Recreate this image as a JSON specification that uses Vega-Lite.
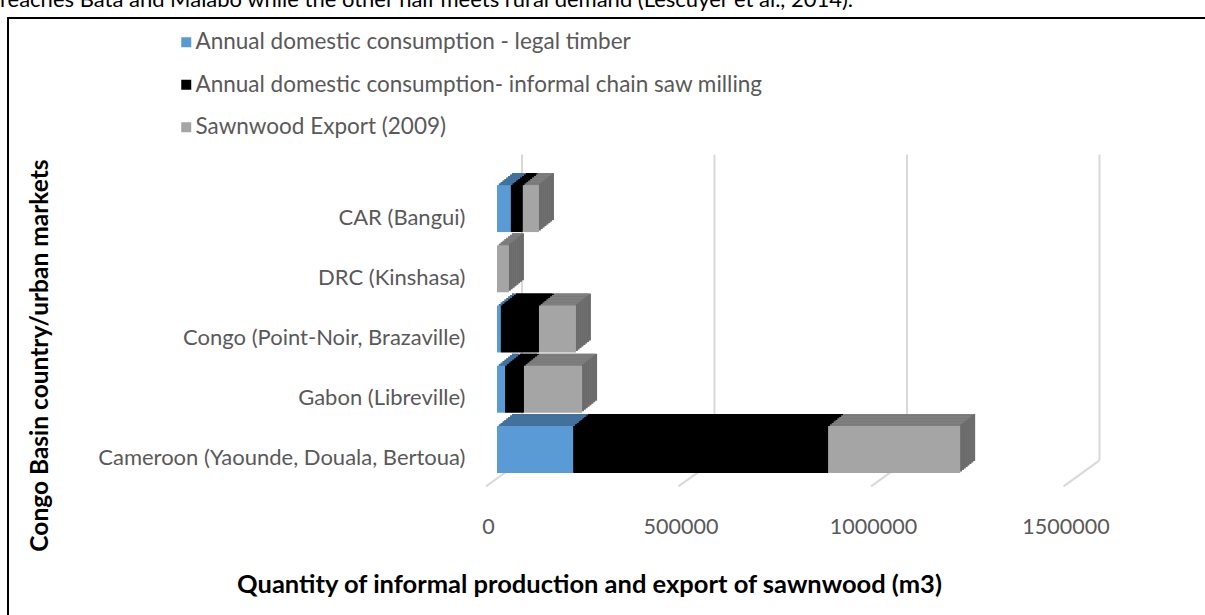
{
  "$schema": "https://vega.github.io/schema/vega-lite/v6.json",
  "width": 1200,
  "height": 600,
  "autosize": {"type": "none"},
  "padding": {"left": 8, "top": 18, "right": 0, "bottom": 0},
  "background": "white",
  "config": {"view": {"stroke": "#000000", "strokeWidth": 2}, "font": "Lato"},
  "title": {"text": "reaches Bata and Malabo while the other half meets rural demand (Lescuyer et al., 2014).", "anchor": "start", "frame": "group", "orient": "top", "fontSize": 22, "font": "Lato", "fontWeight": "normal", "color": "#000000", "baseline": "alphabetic", "offset": -11, "dx": -8},
  "layer": [
    {
      "data": {"values": [{"tick": 0}, {"tick": 500000}, {"tick": 1000000}, {"tick": 1500000}]},
      "mark": {"type": "rule", "color": "#D9D9D9", "strokeWidth": 2, "xOffset": 25, "yOffset": -54, "y2Offset": 11},
      "encoding": {
        "x": {"field": "tick", "type": "quantitative", "scale": {"domain": [0, 1500000], "range": [489, 1066.5], "nice": false, "zero": false}},
        "y": {"datum": "CAR (Bangui)", "type": "nominal", "scale": {"domain": ["CAR (Bangui)", "DRC (Kinshasa)", "Congo (Point-Noir, Brazaville)", "Gabon (Libreville)", "Cameroon (Yaounde, Douala, Bertoua)"], "range": [137, 485], "paddingInner": 0.22, "paddingOuter": 0.5}},
        "y2": {"datum": "Cameroon (Yaounde, Douala, Bertoua)"}
      }
    },
    {
      "data": {"values": [{"tick": 0}, {"tick": 500000}, {"tick": 1000000}, {"tick": 1500000}]},
      "mark": {"type": "rule", "color": "#D9D9D9", "strokeWidth": 2, "xOffset": 25, "x2Offset": -11, "yOffset": 11, "y2Offset": 37},
      "encoding": {
        "x": {"field": "tick", "type": "quantitative", "scale": {"domain": [0, 1500000], "range": [489, 1066.5], "nice": false, "zero": false}},
        "x2": {"field": "tick"},
        "y": {"datum": "Cameroon (Yaounde, Douala, Bertoua)", "type": "nominal", "scale": {"domain": ["CAR (Bangui)", "DRC (Kinshasa)", "Congo (Point-Noir, Brazaville)", "Gabon (Libreville)", "Cameroon (Yaounde, Douala, Bertoua)"], "range": [137, 485], "paddingInner": 0.22, "paddingOuter": 0.5}},
        "y2": {"datum": "Cameroon (Yaounde, Douala, Bertoua)"}
      }
    },
    {
      "data": {"values": [
        {"market": "CAR (Bangui)", "series": "Annual domestic consumption - legal timber", "value": 36000},
        {"market": "CAR (Bangui)", "series": "Annual domestic consumption- informal chain saw milling", "value": 31000},
        {"market": "CAR (Bangui)", "series": "Sawnwood Export (2009)", "value": 42000},
        {"market": "DRC (Kinshasa)", "series": "Annual domestic consumption - legal timber", "value": 0},
        {"market": "DRC (Kinshasa)", "series": "Annual domestic consumption- informal chain saw milling", "value": 0},
        {"market": "DRC (Kinshasa)", "series": "Sawnwood Export (2009)", "value": 31000},
        {"market": "Congo (Point-Noir, Brazaville)", "series": "Annual domestic consumption - legal timber", "value": 10000},
        {"market": "Congo (Point-Noir, Brazaville)", "series": "Annual domestic consumption- informal chain saw milling", "value": 99000},
        {"market": "Congo (Point-Noir, Brazaville)", "series": "Sawnwood Export (2009)", "value": 96000},
        {"market": "Gabon (Libreville)", "series": "Annual domestic consumption - legal timber", "value": 21000},
        {"market": "Gabon (Libreville)", "series": "Annual domestic consumption- informal chain saw milling", "value": 49000},
        {"market": "Gabon (Libreville)", "series": "Sawnwood Export (2009)", "value": 151000},
        {"market": "Cameroon (Yaounde, Douala, Bertoua)", "series": "Annual domestic consumption - legal timber", "value": 198000},
        {"market": "Cameroon (Yaounde, Douala, Bertoua)", "series": "Annual domestic consumption- informal chain saw milling", "value": 662000},
        {"market": "Cameroon (Yaounde, Douala, Bertoua)", "series": "Sawnwood Export (2009)", "value": 343000}
      ]},
      "transform": [
        {"filter": "datum.value > 0"},
        {"stack": "value", "groupby": ["market"], "sort": [{"field": "series", "order": "ascending"}], "as": ["v0", "v1"]}
      ],
      "encoding": {
        "y": {"field": "market", "type": "nominal", "scale": {"domain": ["CAR (Bangui)", "DRC (Kinshasa)", "Congo (Point-Noir, Brazaville)", "Gabon (Libreville)", "Cameroon (Yaounde, Douala, Bertoua)"], "range": [137, 485], "paddingInner": 0.22, "paddingOuter": 0.5},
          "axis": {"title": "Congo Basin country/urban markets", "offset": -457, "domain": false, "ticks": false, "grid": false, "labelPadding": 0, "labelOffset": 9, "labelFontSize": 22, "labelColor": "#595959", "labelFont": "Lato", "labelLimit": 0, "titleFont": "Lato", "titleFontSize": 24.5, "titleFontWeight": "bold", "titleColor": "#000000", "titleX": -425, "titleY": 337, "titleAngle": 270, "titleBaseline": "middle", "titleAlign": "center"}},
        "x": {"field": "v0", "type": "quantitative", "scale": {"domain": [0, 1500000], "range": [489, 1066.5], "nice": false, "zero": false},
          "axis": {"title": "Quantity of informal production and export of sawnwood (m3)", "orient": "bottom", "offset": -115, "values": [0, 500000, 1000000, 1500000], "format": "d", "domain": false, "ticks": false, "grid": false, "labelPadding": 13, "labelOffset": -9, "labelFlush": false, "labelOverlap": false, "labelFontSize": 21.5, "labelColor": "#595959", "labelFont": "Lato", "titleFont": "Lato", "titleFontSize": 25.5, "titleFontWeight": "bold", "titleColor": "#000000", "titleX": 581, "titleY": 81, "titleBaseline": "middle", "titleAlign": "center"}},
        "x2": {"field": "v1"}
      },
      "layer": [
        {"mark": {"type": "bar", "xOffset": 15, "x2Offset": 15, "yOffset": -12, "y2Offset": -12}, "encoding": {"color": {"condition": [{"test": "datum.series == 'Sawnwood Export (2009)'", "value": "#6B6B6B"}, {"test": "datum.series == 'Annual domestic consumption - legal timber'", "value": "#41719C"}], "value": "#000000"}}},
        {"mark": {"type": "bar", "xOffset": 15, "x2Offset": 13.125, "yOffset": -12, "y2Offset": -12}, "encoding": {"color": {"condition": [{"test": "datum.series == 'Sawnwood Export (2009)'", "value": "#7F7F7F"}, {"test": "datum.series == 'Annual domestic consumption - legal timber'", "value": "#41719C"}], "value": "#000000"}}},
        {"mark": {"type": "bar", "xOffset": 13.125, "x2Offset": 13.125, "yOffset": -10.5, "y2Offset": -10.5}, "encoding": {"color": {"condition": [{"test": "datum.series == 'Sawnwood Export (2009)'", "value": "#6B6B6B"}, {"test": "datum.series == 'Annual domestic consumption - legal timber'", "value": "#41719C"}], "value": "#000000"}}},
        {"mark": {"type": "bar", "xOffset": 13.125, "x2Offset": 11.25, "yOffset": -10.5, "y2Offset": -10.5}, "encoding": {"color": {"condition": [{"test": "datum.series == 'Sawnwood Export (2009)'", "value": "#7F7F7F"}, {"test": "datum.series == 'Annual domestic consumption - legal timber'", "value": "#41719C"}], "value": "#000000"}}},
        {"mark": {"type": "bar", "xOffset": 11.25, "x2Offset": 11.25, "yOffset": -9, "y2Offset": -9}, "encoding": {"color": {"condition": [{"test": "datum.series == 'Sawnwood Export (2009)'", "value": "#6B6B6B"}, {"test": "datum.series == 'Annual domestic consumption - legal timber'", "value": "#41719C"}], "value": "#000000"}}},
        {"mark": {"type": "bar", "xOffset": 11.25, "x2Offset": 9.375, "yOffset": -9, "y2Offset": -9}, "encoding": {"color": {"condition": [{"test": "datum.series == 'Sawnwood Export (2009)'", "value": "#7F7F7F"}, {"test": "datum.series == 'Annual domestic consumption - legal timber'", "value": "#41719C"}], "value": "#000000"}}},
        {"mark": {"type": "bar", "xOffset": 9.375, "x2Offset": 9.375, "yOffset": -7.5, "y2Offset": -7.5}, "encoding": {"color": {"condition": [{"test": "datum.series == 'Sawnwood Export (2009)'", "value": "#6B6B6B"}, {"test": "datum.series == 'Annual domestic consumption - legal timber'", "value": "#41719C"}], "value": "#000000"}}},
        {"mark": {"type": "bar", "xOffset": 9.375, "x2Offset": 7.5, "yOffset": -7.5, "y2Offset": -7.5}, "encoding": {"color": {"condition": [{"test": "datum.series == 'Sawnwood Export (2009)'", "value": "#7F7F7F"}, {"test": "datum.series == 'Annual domestic consumption - legal timber'", "value": "#41719C"}], "value": "#000000"}}},
        {"mark": {"type": "bar", "xOffset": 7.5, "x2Offset": 7.5, "yOffset": -6, "y2Offset": -6}, "encoding": {"color": {"condition": [{"test": "datum.series == 'Sawnwood Export (2009)'", "value": "#6B6B6B"}, {"test": "datum.series == 'Annual domestic consumption - legal timber'", "value": "#41719C"}], "value": "#000000"}}},
        {"mark": {"type": "bar", "xOffset": 7.5, "x2Offset": 5.625, "yOffset": -6, "y2Offset": -6}, "encoding": {"color": {"condition": [{"test": "datum.series == 'Sawnwood Export (2009)'", "value": "#7F7F7F"}, {"test": "datum.series == 'Annual domestic consumption - legal timber'", "value": "#41719C"}], "value": "#000000"}}},
        {"mark": {"type": "bar", "xOffset": 5.625, "x2Offset": 5.625, "yOffset": -4.5, "y2Offset": -4.5}, "encoding": {"color": {"condition": [{"test": "datum.series == 'Sawnwood Export (2009)'", "value": "#6B6B6B"}, {"test": "datum.series == 'Annual domestic consumption - legal timber'", "value": "#41719C"}], "value": "#000000"}}},
        {"mark": {"type": "bar", "xOffset": 5.625, "x2Offset": 3.75, "yOffset": -4.5, "y2Offset": -4.5}, "encoding": {"color": {"condition": [{"test": "datum.series == 'Sawnwood Export (2009)'", "value": "#7F7F7F"}, {"test": "datum.series == 'Annual domestic consumption - legal timber'", "value": "#41719C"}], "value": "#000000"}}},
        {"mark": {"type": "bar", "xOffset": 3.75, "x2Offset": 3.75, "yOffset": -3, "y2Offset": -3}, "encoding": {"color": {"condition": [{"test": "datum.series == 'Sawnwood Export (2009)'", "value": "#6B6B6B"}, {"test": "datum.series == 'Annual domestic consumption - legal timber'", "value": "#41719C"}], "value": "#000000"}}},
        {"mark": {"type": "bar", "xOffset": 3.75, "x2Offset": 1.875, "yOffset": -3, "y2Offset": -3}, "encoding": {"color": {"condition": [{"test": "datum.series == 'Sawnwood Export (2009)'", "value": "#7F7F7F"}, {"test": "datum.series == 'Annual domestic consumption - legal timber'", "value": "#41719C"}], "value": "#000000"}}},
        {"mark": {"type": "bar", "xOffset": 1.875, "x2Offset": 1.875, "yOffset": -1.5, "y2Offset": -1.5}, "encoding": {"color": {"condition": [{"test": "datum.series == 'Sawnwood Export (2009)'", "value": "#6B6B6B"}, {"test": "datum.series == 'Annual domestic consumption - legal timber'", "value": "#41719C"}], "value": "#000000"}}},
        {"mark": {"type": "bar", "xOffset": 1.875, "x2Offset": 0, "yOffset": -1.5, "y2Offset": -1.5}, "encoding": {"color": {"condition": [{"test": "datum.series == 'Sawnwood Export (2009)'", "value": "#7F7F7F"}, {"test": "datum.series == 'Annual domestic consumption - legal timber'", "value": "#41719C"}], "value": "#000000"}}},
        {"mark": {"type": "bar"}, "encoding": {"color": {"field": "series", "type": "nominal",
          "scale": {"domain": ["Annual domestic consumption - legal timber", "Annual domestic consumption- informal chain saw milling", "Sawnwood Export (2009)"], "range": ["#5B9BD5", "#000000", "#A5A5A5"]},
          "legend": {"title": null, "orient": "none", "legendX": 167, "legendY": 13, "padding": 0, "symbolType": "square", "symbolSize": 100, "symbolStrokeWidth": 0, "labelFontSize": 22.5, "labelFont": "Lato", "labelColor": "#595959", "labelOffset": -2, "rowPadding": 19.5, "labelLimit": 0}}}}
      ]
    }
  ]
}
